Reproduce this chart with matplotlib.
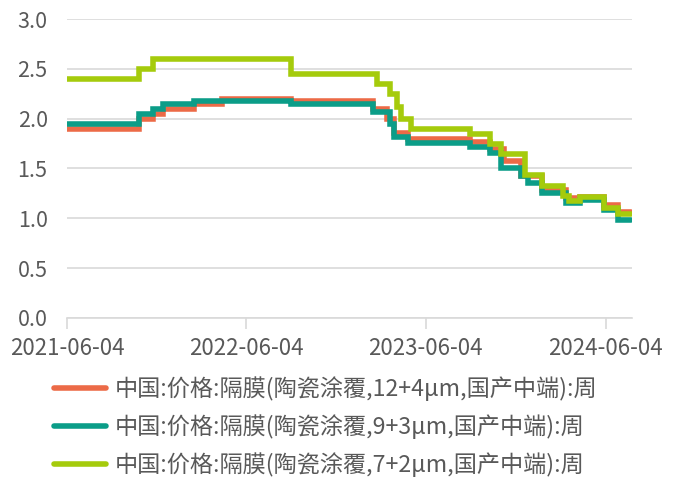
import matplotlib
matplotlib.use("Agg")
import matplotlib.pyplot as plt
import pandas as pd

plt.rcParams['font.family'] = ['Noto Sans CJK SC', 'DejaVu Sans']

# Step change points (date, value); each value holds until the next date
red_dates = ["2021-06-04", "2021-10-29", "2021-11-26", "2021-12-17", "2022-02-18", "2022-04-15",
             "2022-09-02", "2023-02-17", "2023-03-17", "2023-03-31", "2023-04-28", "2023-09-01",
             "2023-10-13", "2023-11-10", "2023-12-15", "2024-01-26", "2024-03-15", "2024-04-12",
             "2024-05-31", "2024-06-28", "2024-07-26"]
red_vals = [1.90, 2.00, 2.05, 2.10, 2.15, 2.20,
            2.18, 2.10, 2.00, 1.86, 1.80, 1.77,
            1.70, 1.58, 1.42, 1.28, 1.20, 1.21,
            1.13, 1.06, 1.06]

teal_dates = ["2021-06-04", "2021-10-29", "2021-11-26", "2021-12-17", "2022-02-18", "2022-09-02",
              "2023-02-17", "2023-03-24", "2023-03-31", "2023-04-28", "2023-09-01", "2023-10-13",
              "2023-11-03", "2023-12-15", "2023-12-29", "2024-01-26", "2024-03-15", "2024-04-12",
              "2024-05-31", "2024-06-28", "2024-07-26"]
teal_vals = [1.95, 2.05, 2.10, 2.15, 2.18, 2.15,
             2.07, 1.95, 1.82, 1.76, 1.72, 1.66,
             1.50, 1.42, 1.35, 1.25, 1.15, 1.18,
             1.08, 0.98, 0.98]

green_dates = ["2021-06-04", "2021-10-29", "2021-11-26", "2022-09-02", "2023-02-24", "2023-03-24",
               "2023-04-07", "2023-04-14", "2023-05-05", "2023-09-01", "2023-10-13", "2023-11-03",
               "2023-12-22", "2024-01-26", "2024-03-08", "2024-03-22", "2024-04-12", "2024-05-31",
               "2024-06-28", "2024-07-26"]
green_vals = [2.40, 2.50, 2.60, 2.45, 2.35, 2.25,
              2.12, 2.00, 1.90, 1.85, 1.75, 1.65,
              1.43, 1.32, 1.22, 1.17, 1.21, 1.10,
              1.04, 1.04]

labels = ["中国:价格:隔膜(陶瓷涂覆,12+4μm,国产中端):周",
          "中国:价格:隔膜(陶瓷涂覆,9+3μm,国产中端):周",
          "中国:价格:隔膜(陶瓷涂覆,7+2μm,国产中端):周"]
colors = ["#EC6A47", "#0B9D88", "#A5CB0C"]

tick_dates = ["2021-06-04", "2022-06-04", "2023-06-04", "2024-06-04"]
y_ticks = [0.0, 0.5, 1.0, 1.5, 2.0, 2.5, 3.0]

fig = plt.figure(figsize=(6.77, 4.78), dpi=100)
ax = fig.add_axes([0.099, 0.335, 0.835, 0.625])

series = [(red_dates, red_vals), (teal_dates, teal_vals), (green_dates, green_vals)]
handles = []
for (d, v), c, lab in zip(series, colors, labels):
    h, = ax.plot(pd.to_datetime(d), v, drawstyle='steps-post', color=c, lw=4.0,
                 label=lab, solid_joinstyle='miter', solid_capstyle='round')
    handles.append(h)

ax.set_ylim(0, 3.0)
ax.set_yticks(y_ticks)
ax.set_yticklabels([f"{t:.1f}" for t in y_ticks])
ax.set_xlim(pd.Timestamp("2021-06-04"), pd.Timestamp("2024-07-28"))
ax.set_xticks(pd.to_datetime(tick_dates))
ax.set_xticklabels(tick_dates)

ax.grid(axis='y', color='#D9D9D9', lw=1.2)
ax.set_axisbelow(True)
for s in ['top', 'right', 'left']:
    ax.spines[s].set_visible(False)
ax.spines['bottom'].set_color('#D9D9D9')
ax.spines['bottom'].set_linewidth(1.2)
ax.tick_params(axis='y', length=0, labelsize=15.5, labelcolor='#595959', pad=14)
ax.tick_params(axis='x', length=8, width=1.2, color='#D9D9D9', labelsize=16,
               labelcolor='#595959', pad=6)

fig.legend(handles=handles, labels=labels, loc='upper left', bbox_to_anchor=(0.066, 0.232),
           frameon=False, fontsize=16.7, handlelength=2.25, handletextpad=0.35,
           labelspacing=0.56, labelcolor='#595959', borderaxespad=0)

fig.savefig("out.png", dpi=100)
